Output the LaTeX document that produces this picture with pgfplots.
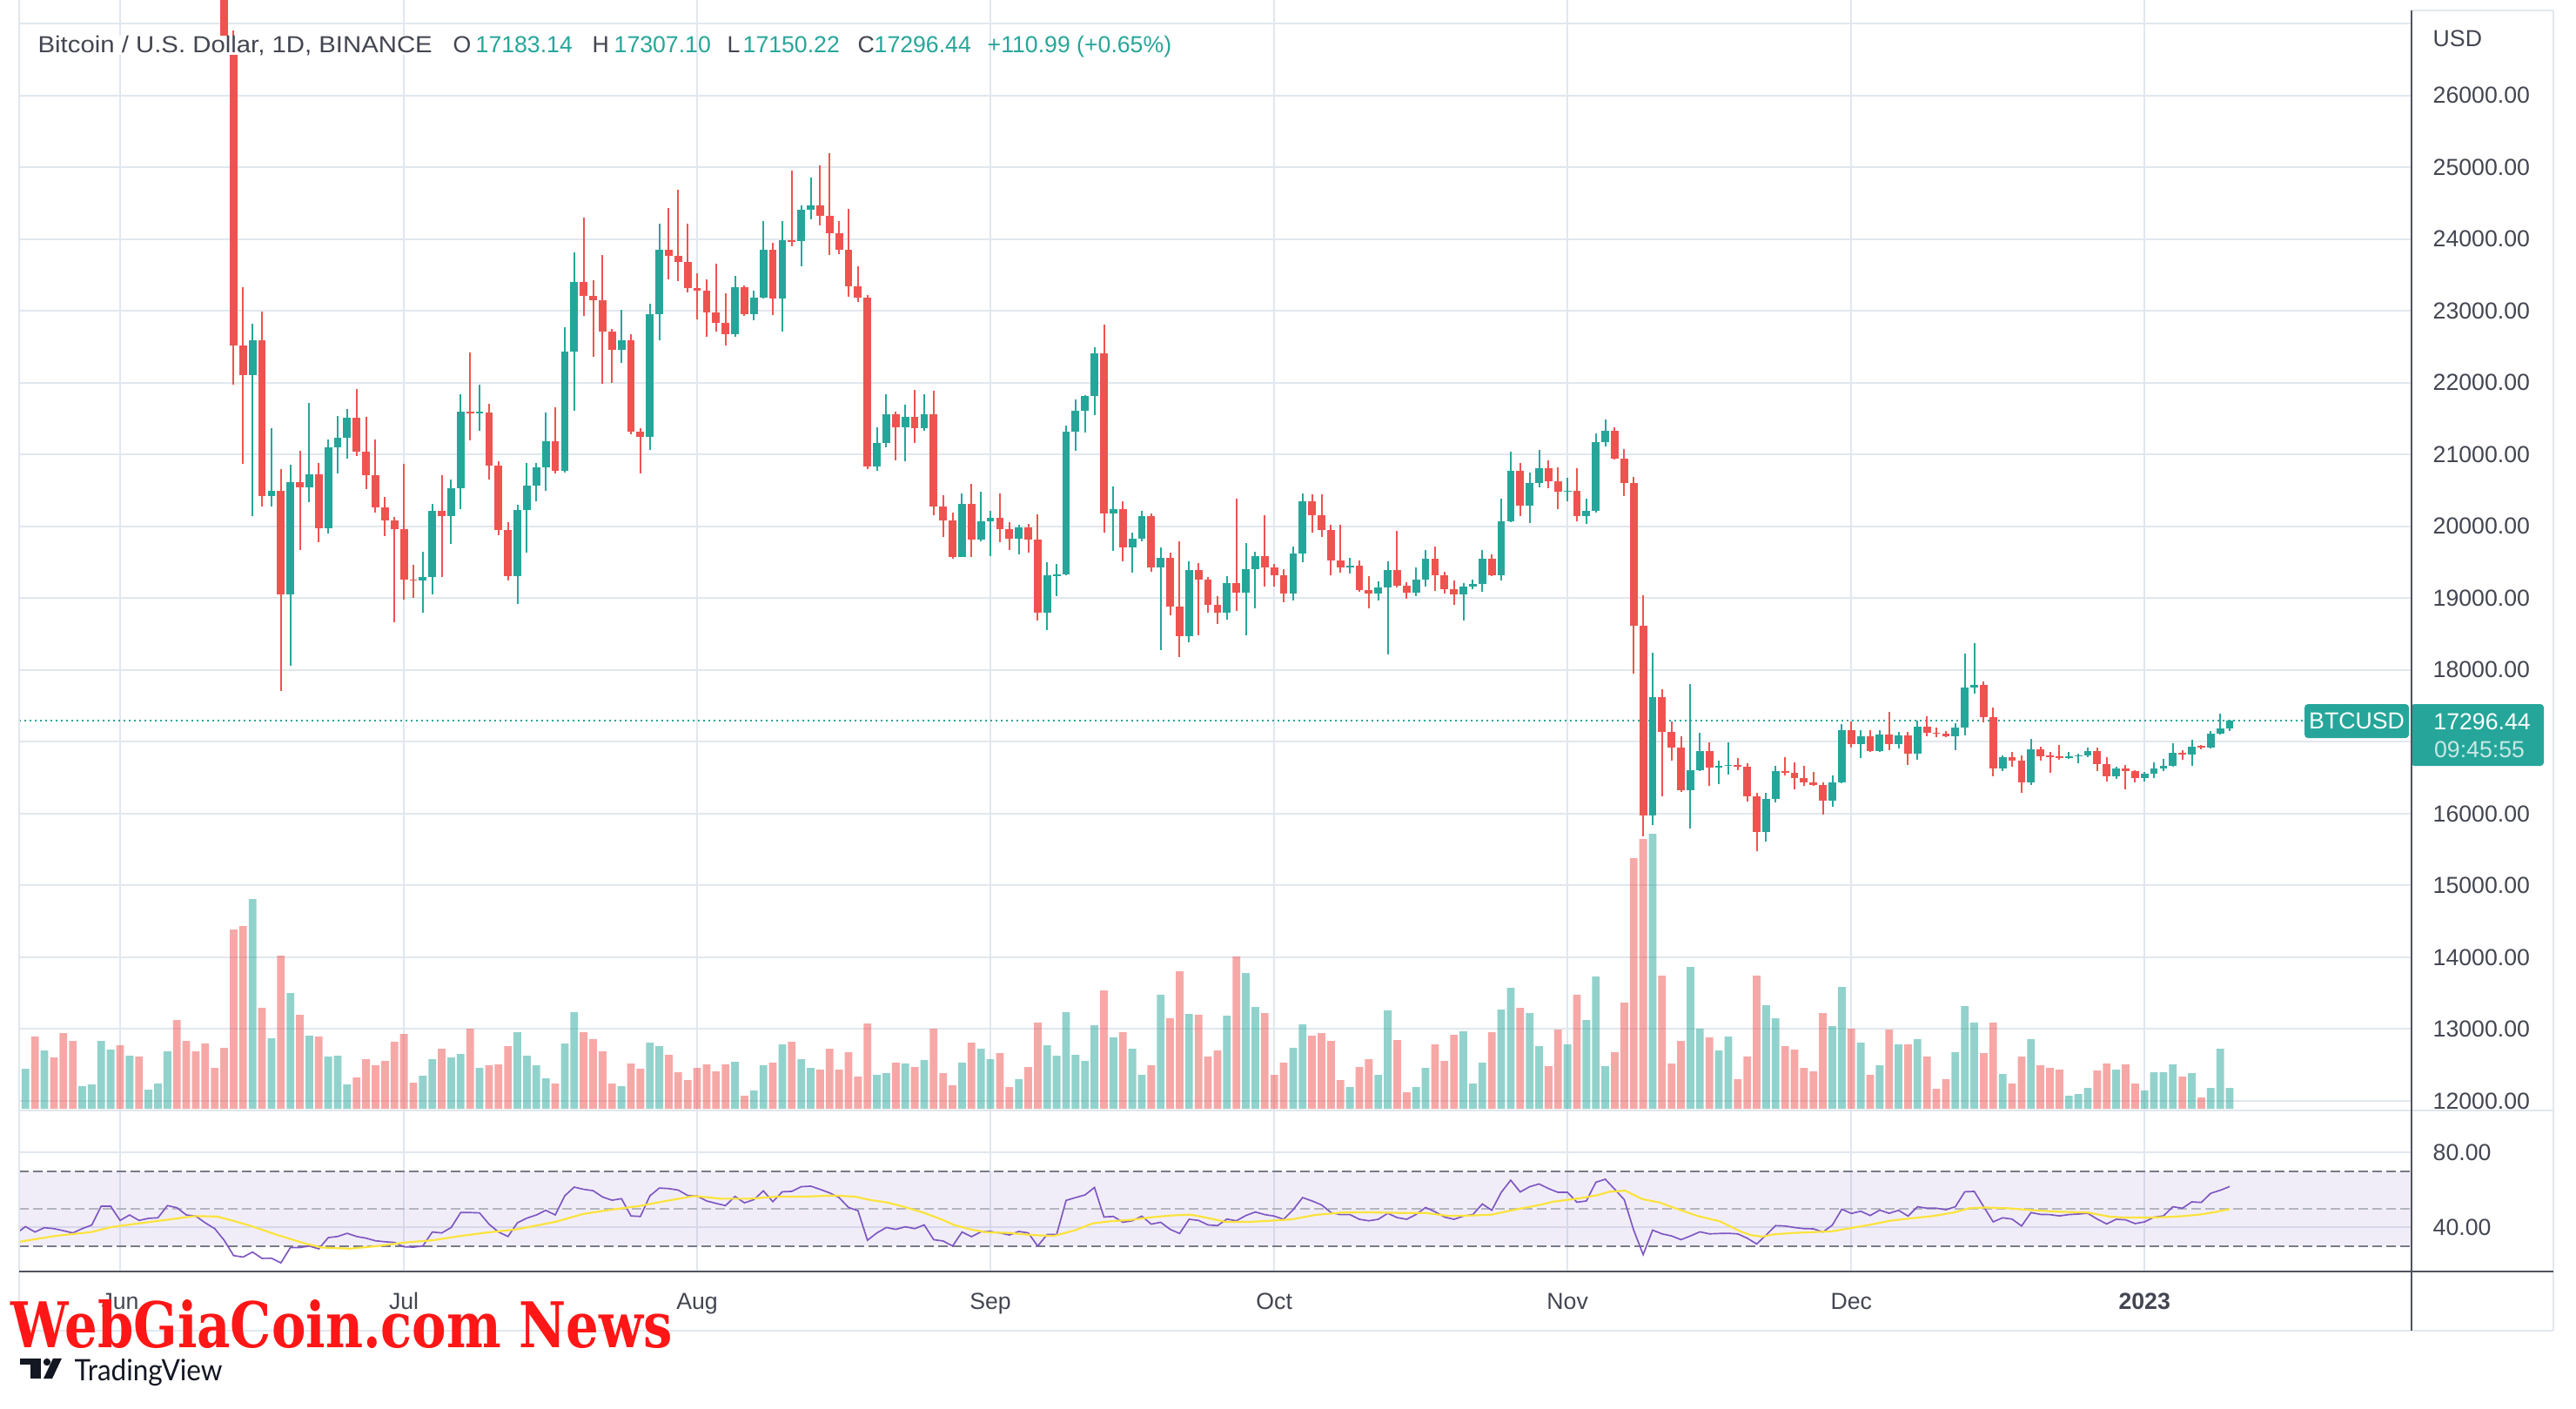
\documentclass[border=0pt]{standalone}
\usepackage{pgfplots}
\pgfplotsset{compat=1.18}
\usepackage{pgfplotstable}
\usepackage{graphicx}
\usepackage{fontspec}
\setmainfont{Liberation Sans}
\newfontfamily\wmfont{DejaVu Serif}
\newfontfamily\tvfont{Lato}

\definecolor{up}{HTML}{26A69A}
\definecolor{dn}{HTML}{EF5350}
\definecolor{gridc}{HTML}{E1E7EE}
\definecolor{txt}{HTML}{434651}
\definecolor{dark}{HTML}{50535E}
\definecolor{rsic}{HTML}{7E57C2}
\definecolor{rsima}{HTML}{FBE33B}
\definecolor{bandc}{HTML}{787B86}
\definecolor{bandm}{HTML}{B2B5BE}
\definecolor{wm}{HTML}{FF1616}
\definecolor{tvc}{HTML}{131722}

\newcommand{\lbl}{\fontsize{8}{9.5}\selectfont}

\pgfplotsset{
  base/.style={scale only axis, width=824.7pt, xmin=-10.672, xmax=242.226,
    axis line style={draw=none}, major tick length=0pt, tick style={draw=none},
    major grid style={draw=gridc, line width=0.6pt},
    tick label style={font=\lbl, text=txt},
    scaled y ticks=false, scaled x ticks=false,
    /pgf/number format/assume math mode=true},
  pricelbl/.style={yticklabel pos=right,
    yticklabel style={anchor=west, inner sep=0pt, xshift=7.2pt,
      /pgf/number format/fixed, /pgf/number format/fixed zerofill,
      /pgf/number format/precision=2, /pgf/number format/1000 sep={}}},
  wick/.style={only marks, mark=*, mark size=0pt, mark options={draw=none, fill=none},
    restrict y to domain=1000:100000,
    error bars/.cd, y dir=both, y explicit, error mark=none,
    error bar style={line width=0.6pt, draw=#1}},
  body/.style={only marks, mark=*, mark size=0pt, mark options={draw=none, fill=none},
    restrict y to domain=1000:100000,
    error bars/.cd, y dir=both, y explicit, error mark=none,
    error bar style={line width=2.64pt, draw=#1}},
}

% d = days since 1 Jun 2022; o h l c in USD; v = volume (bar height units); up = close >= open
\pgfplotstableread{
d o h l c v up
-11 29200 29600 28950 29430 24 1
-10 29430 30480 29240 30300 46 1
-9 30300 30660 28900 29100 83 0
-8 29100 29840 28600 29650 67 1
-7 29650 30230 29300 29540 59 0
-6 29540 29850 28020 29200 87 0
-5 29200 29380 28260 28630 78 0
-4 28630 29240 28560 29030 26 1
-3 29030 29550 28800 29470 28 1
-2 29470 32200 29300 31730 78 1
-1 31730 32400 31200 31800 68 1
0 31800 31980 29300 29800 73 0
1 29800 30650 29570 30450 61 1
2 30450 30700 29250 29700 60 0
3 29700 29950 29480 29860 22 1
4 29860 30150 29510 29900 29 1
5 29900 31760 29880 31370 66 1
6 31370 31550 29220 31120 102 0
7 31120 31330 29850 30200 78 0
8 30200 30700 29960 30110 66 0
9 30110 30390 28850 29090 75 0
10 29090 29440 28100 28420 47 0
11 28420 28544 26560 26574 70 0
12 26574 26898 21977 22518 206 0
13 22518 23329 20868 22107 210 0
14 22107 22815 20138 22588 241 1
15 22588 22988 20273 20425 116 0
16 20425 21366 20273 20490 81 1
17 20490 20798 17705 19057 176 0
18 19057 20857 18056 20614 133 1
19 20614 21047 19668 20544 108 0
20 20544 21717 20338 20722 84 1
21 20722 20885 19776 19976 83 0
22 19976 21204 19895 21095 60 1
23 21095 21533 20733 21231 61 1
24 21231 21631 20939 21512 28 1
25 21512 21907 20976 21041 36 0
26 21041 21528 20517 20706 57 0
27 20706 21204 20192 20263 50 0
28 20263 20409 19868 20079 55 0
29 20079 20127 18662 19965 77 0
30 19965 20868 18976 19262 86 0
31 19262 19462 19003 19246 30 0
32 19246 19651 18797 19300 38 1
33 19300 20317 19046 20219 57 1
34 20219 20706 19289 20138 69 0
35 20138 20652 19749 20533 59 1
36 20533 21836 20236 21598 63 1
37 21598 22420 21193 21577 92 0
38 21577 21971 21328 21588 47 1
39 21588 21700 20652 20841 50 0
40 20841 20900 19879 19949 51 0
41 19949 20057 19246 19311 72 0
42 19311 20300 18921 20230 88 1
43 20230 20885 19635 20565 61 1
44 20565 20885 20354 20825 50 1
45 20825 21582 20490 21182 35 1
46 21182 21652 20733 20771 29 0
47 20771 22772 20749 22431 75 1
48 22431 23810 21614 23399 111 1
49 23399 24297 22934 23210 88 0
50 23210 23421 22355 23150 80 0
51 23150 23772 21988 22707 66 0
52 22707 22750 21993 22458 29 0
53 22458 23015 22280 22588 26 1
54 22588 22680 21285 21317 52 0
55 21317 21366 20733 21247 46 0
56 21247 23102 21068 22950 76 1
57 22950 24210 22593 23848 72 1
58 23848 24427 23437 23762 62 0
59 23762 24681 23415 23680 42 0
60 23680 24210 23259 23318 33 0
61 23318 23518 22885 23286 47 0
62 23286 23432 22642 22983 51 0
63 22983 23653 22707 22837 43 0
64 22837 23248 22518 22680 51 0
65 22680 23486 22642 23329 54 1
66 23329 23356 22934 22950 15 0
67 22950 23280 22869 23183 21 1
68 23183 24248 23167 23848 50 1
69 23848 23945 22940 23167 53 0
70 23167 24248 22707 23983 74 1
71 23983 24951 23897 23967 77 0
72 23967 24465 23616 24405 57 1
73 24405 24854 24275 24465 47 1
74 24465 25022 24194 24324 45 0
75 24324 25195 23772 24081 69 0
76 24081 24248 23789 23853 45 0
77 23853 24416 23194 23340 65 0
78 23340 23616 23123 23188 37 0
79 23188 23215 20798 20836 98 0
80 20836 21382 20776 21160 39 1
81 21160 21836 21101 21555 41 1
82 21555 21600 20922 21382 53 0
83 21382 21690 20911 21523 52 1
84 21523 21896 21166 21371 48 0
85 21371 21836 21328 21555 56 1
86 21555 21885 20154 20273 92 0
87 20273 20436 19857 20079 41 0
88 20079 20192 19554 19576 27 0
89 19576 20463 19570 20311 53 1
90 20311 20587 19570 19814 76 0
91 19814 20479 19790 20068 69 1
92 20068 20219 19586 20122 57 1
93 20122 20463 19776 19965 64 0
94 19965 20057 19668 19830 25 0
95 19830 20019 19614 19981 34 1
96 19981 20030 19635 19814 48 0
97 19814 20165 18694 18802 99 0
98 18802 19500 18559 19316 73 1
99 19316 19473 19029 19327 61 1
100 19327 21400 19316 21317 111 1
101 21317 21771 21052 21604 62 1
102 21604 21825 21301 21815 55 1
103 21815 22491 21544 22404 96 1
104 22404 22804 19906 20181 136 0
105 20181 20555 19652 20235 82 1
106 20235 20354 19516 19706 88 0
107 19706 19906 19354 19830 69 1
108 19830 20219 19787 20138 39 1
109 20138 20180 19365 19424 50 0
110 19424 19706 18272 19560 131 1
111 19560 19635 18759 18884 104 0
112 18884 19787 18180 18472 158 0
113 18472 19516 18381 19392 109 1
114 19392 19489 18478 19262 108 0
115 19262 19300 18802 18905 60 0
116 18905 19030 18640 18802 67 0
117 18802 19306 18700 19214 107 1
118 19214 20382 18819 19073 175 0
119 19073 19761 18478 19404 156 1
120 19404 19648 18857 19588 117 1
121 19588 20157 19160 19425 110 0
122 19425 19480 19160 19323 39 0
123 19323 19398 18938 19063 53 0
124 19063 19713 18971 19626 70 1
125 19626 20454 19496 20346 97 1
126 20346 20443 19913 20157 84 0
127 20157 20443 19848 19951 87 0
128 19951 20027 19323 19528 78 0
129 19528 20027 19360 19425 33 0
130 19425 19566 19344 19447 25 1
131 19447 19523 19090 19117 48 0
132 19117 19306 18862 19063 57 0
133 19063 19236 18965 19144 39 1
134 19144 19512 18212 19387 113 1
135 19387 19940 19144 19171 79 0
136 19171 19225 18992 19073 19 0
137 19073 19431 19030 19252 25 1
138 19252 19675 19155 19550 47 1
139 19550 19713 19101 19323 74 0
140 19323 19371 19063 19128 55 0
141 19128 19241 18911 19046 85 0
142 19046 19209 18683 19160 89 1
143 19160 19252 19128 19198 29 1
144 19198 19669 19090 19550 53 1
145 19550 19604 19306 19323 88 0
146 19323 20389 19241 20065 114 1
147 20065 21040 20054 20769 139 1
148 20769 20877 20146 20292 116 0
149 20292 20752 20048 20606 110 1
150 20606 21067 20541 20807 72 1
151 20807 20920 20525 20633 49 0
152 20633 20823 20238 20482 91 0
153 20482 20677 20352 20498 74 1
154 20498 20812 20075 20140 131 0
155 20140 20379 20032 20211 102 1
156 20211 21299 20189 21175 152 1
157 21175 21484 21110 21326 49 1
158 21326 21381 20931 20942 65 0
159 20942 21077 20417 20606 122 0
160 20606 20687 17952 18613 288 0
161 18613 19036 15678 15970 310 0
162 15970 18234 15840 17627 316 1
163 17627 17725 16246 17140 153 0
164 17140 17286 16734 16923 52 0
165 16923 17075 16300 16328 78 0
166 16328 17801 15797 16609 163 1
167 16609 17129 16587 16869 92 1
168 16869 16988 16382 16642 82 0
169 16642 16734 16409 16663 67 1
170 16663 16988 16544 16679 83 1
171 16679 16772 16609 16652 34 0
172 16652 16706 16165 16246 60 0
173 16246 16284 15472 15743 153 0
174 15743 16284 15607 16208 119 1
175 16208 16663 16154 16598 104 1
176 16598 16788 16528 16571 72 0
177 16571 16717 16338 16501 68 0
178 16501 16663 16392 16436 47 0
179 16436 16582 16382 16403 43 0
180 16403 16436 15992 16186 110 0
181 16186 16528 16095 16436 95 1
182 16436 17248 16425 17167 140 1
183 17167 17286 16923 16967 92 0
184 16967 17167 16772 17075 76 1
185 17075 17167 16858 16869 39 0
186 16869 17167 16860 17102 50 1
187 17102 17422 16880 16967 91 0
188 16967 17140 16907 17086 74 1
189 17086 17140 16679 16831 74 0
190 16831 17292 16750 17216 80 1
191 17216 17357 17075 17129 60 0
192 17129 17194 17059 17113 23 0
193 17113 17151 17059 17075 34 0
194 17075 17259 16880 17194 65 1
195 17194 18223 17086 17752 118 1
196 17752 18375 17665 17790 99 1
197 17790 17844 17275 17340 64 0
198 17340 17481 16517 16625 99 0
199 16625 16815 16598 16788 40 1
200 16788 16853 16653 16734 29 0
201 16734 16815 16284 16436 60 0
202 16436 17042 16393 16896 80 1
203 16896 16934 16734 16804 50 0
204 16804 16858 16571 16799 47 0
205 16799 16950 16750 16772 45 0
206 16772 16858 16761 16799 15 1
207 16799 16830 16696 16815 17 1
208 16815 16923 16788 16869 24 1
209 16869 16923 16598 16690 44 0
210 16690 16788 16447 16517 52 0
211 16517 16652 16479 16625 45 1
212 16625 16679 16338 16598 51 0
213 16598 16609 16436 16490 29 0
214 16490 16582 16447 16555 21 1
215 16555 16717 16501 16625 42 1
216 16625 16761 16598 16663 42 1
217 16663 16977 16652 16842 51 1
218 16842 16880 16745 16826 37 0
219 16826 17032 16663 16934 41 1
220 16934 16961 16896 16923 13 0
221 16923 17151 16907 17113 24 1
222 17113 17394 17097 17183 69 1
223 17183.14 17307.10 17150.22 17296.44 24 1
}\btc

\begin{document}
\begin{tikzpicture}
\useasboundingbox (0,0) rectangle (888pt,-485.4pt);
\fill[white] (0,0) rectangle (888pt,-485.4pt);

% ---- price pane grid
\begin{axis}[base, at={(6.6pt,-382.8pt)}, anchor=south west, height=382.8pt,
  ymin=11866.2, ymax=27327.2,
  xtick={0,30,61,92,122,153,183,214}, ytick={12000,13000,...,27000},
  xticklabels={}, yticklabels={}, xmajorgrids, ymajorgrids]
\addplot[draw=none] coordinates {(0,20000)};
\end{axis}

% ---- volume overlay
\begin{axis}[base, at={(6.6pt,-382.2pt)}, anchor=south west, height=382.2pt,
  ymin=0, ymax=1274, xtick=\empty, ytick=\empty]
\addplot[ybar, bar width=0.81, bar shift=0pt, draw=none, fill=up, fill opacity=0.5,
  restrict y to domain=0:5000]
  table[x=d, y expr={\thisrow{up}>0.5 ? \thisrow{v} : -10}]{\btc};
\addplot[ybar, bar width=0.81, bar shift=0pt, draw=none, fill=dn, fill opacity=0.5,
  restrict y to domain=0:5000]
  table[x=d, y expr={\thisrow{up}<0.5 ? \thisrow{v} : -10}]{\btc};
\end{axis}

% ---- candles
\begin{axis}[base, pricelbl, at={(6.6pt,-382.8pt)}, anchor=south west, height=382.8pt,
  ymin=11866.2, ymax=27327.2, xtick=\empty,
  ytick={12000,13000,14000,15000,16000,18000,19000,20000,21000,22000,23000,24000,25000,26000}]
\draw[up, line width=0.45pt, dash pattern=on 0.6pt off 1.2pt]
  (axis cs:-10.672,17296.44) -- (axis cs:230.9,17296.44);
\addplot[wick=up] table[x=d,
  y expr={\thisrow{up}>0.5 ? (\thisrow{h}+\thisrow{l})/2 : -50},
  y error expr={(\thisrow{h}-\thisrow{l})/2}]{\btc};
\addplot[wick=dn] table[x=d,
  y expr={\thisrow{up}<0.5 ? (\thisrow{h}+\thisrow{l})/2 : -50},
  y error expr={(\thisrow{h}-\thisrow{l})/2}]{\btc};
\addplot[body=up] table[x=d,
  y expr={\thisrow{up}>0.5 ? (\thisrow{o}+\thisrow{c})/2 : -50},
  y error expr={max(abs(\thisrow{o}-\thisrow{c})/2,9)}]{\btc};
\addplot[body=dn] table[x=d,
  y expr={\thisrow{up}<0.5 ? (\thisrow{o}+\thisrow{c})/2 : -50},
  y error expr={max(abs(\thisrow{o}-\thisrow{c})/2,9)}]{\btc};
\end{axis}

% ---- RSI pane
\begin{axis}[base, pricelbl, at={(6.6pt,-438.3pt)}, anchor=south west, height=55.5pt,
  ymin=16.28, ymax=102.33,
  xtick={0,30,61,92,122,153,183,214},
  xticklabels={Jun,Jul,Aug,Sep,Oct,Nov,Dec,\textbf{2023}},
  xticklabel style={anchor=base, inner sep=0pt, yshift=-12.9pt},
  ytick={40,80}, xmajorgrids, ymajorgrids]
\fill[rsic, fill opacity=0.1] (axis cs:-10.672,30) rectangle (axis cs:242.226,70);
\draw[bandc, line width=0.6pt, dash pattern=on 3.3pt off 1.5pt] (axis cs:-10.672,70) -- (axis cs:242.226,70);
\draw[bandc, line width=0.6pt, dash pattern=on 3.3pt off 1.5pt] (axis cs:-10.672,30) -- (axis cs:242.226,30);
\draw[bandm, line width=0.6pt, dash pattern=on 3.3pt off 1.5pt] (axis cs:-10.672,50) -- (axis cs:242.226,50);
\addplot[rsic, line width=0.5pt] coordinates {
(-11,36.5)(-10,40.3)(-9,37.4)(-8,39.7)(-7,39.2)(-6,38.1)(-5,36.9)(-4,39.2)(-3,41.1)(-2,51.2)(-1,51.2)
(0,43.6)(1,46.5)(2,43.6)(3,44.7)(4,45.0)(5,51.5)(6,50.4)(7,46.5)(8,45.9)(9,42.3)(10,39.2)(11,33.0)
(12,24.8)(13,24.0)(14,26.7)(15,23.3)(16,23.4)(17,20.9)(18,29.1)(19,29.1)(20,29.9)(21,28.4)(22,34.4)
(23,35.0)(24,36.7)(25,35.0)(26,34.1)(27,32.7)(28,32.2)(29,31.8)(30,29.5)(31,29.3)(32,29.9)(33,37.4)
(34,36.9)(35,39.8)(36,47.8)(37,47.8)(38,47.6)(39,41.6)(40,37.4)(41,35.0)(42,42.3)(43,44.8)(44,46.5)
(45,49.0)(46,46.5)(47,56.7)(48,61.4)(49,60.2)(50,59.5)(51,56.1)(52,54.4)(53,55.2)(54,46.0)(55,45.7)
(56,56.7)(57,60.9)(58,60.6)(59,59.8)(60,56.9)(61,56.6)(62,54.0)(63,52.7)(64,51.5)(65,56.4)(66,53.0)
(67,54.7)(68,59.4)(69,53.6)(70,58.9)(71,59.1)(72,61.6)(73,61.9)(74,60.2)(75,58.3)(76,55.8)(77,50.5)
(78,48.8)(79,33.0)(80,36.9)(81,39.8)(82,38.8)(83,40.2)(84,39.2)(85,41.2)(86,33.3)(87,32.6)(88,29.9)
(89,37.4)(90,34.9)(91,37.5)(92,37.7)(93,36.9)(94,35.8)(95,37.7)(96,36.9)(97,29.9)(98,36.1)(99,36.1)
(100,54.3)(101,55.8)(102,57.2)(103,61.2)(104,45.4)(105,45.7)(106,42.6)(107,43.4)(108,45.9)(109,41.6)
(110,42.6)(111,38.8)(112,36.6)(113,44.2)(114,43.6)(115,41.2)(116,40.8)(117,44.3)(118,43.4)(119,46.2)
(120,48.1)(121,46.7)(122,45.9)(123,44.2)(124,49.3)(125,55.8)(126,54.0)(127,51.9)(128,47.8)(129,46.7)
(130,46.7)(131,44.2)(132,43.4)(133,44.2)(134,47.4)(135,45.1)(136,44.2)(137,46.8)(138,50.5)(139,48.2)
(140,45.4)(141,44.2)(142,45.9)(143,46.7)(144,52.4)(145,49.0)(146,58.6)(147,65.1)(148,58.8)(149,61.6)
(150,63.1)(151,60.6)(152,58.6)(153,58.6)(154,53.3)(155,54.0)(156,64.0)(157,65.6)(158,60.2)(159,54.7)
(160,38.4)(161,25.3)(162,38.4)(163,36.4)(164,35.3)(165,33.3)(166,35.3)(167,37.5)(168,36.4)(169,36.6)
(170,36.7)(171,36.4)(172,34.1)(173,31.0)(174,35.8)(175,40.8)(176,40.6)(177,39.8)(178,39.2)(179,39.1)
(180,37.4)(181,41.1)(182,49.6)(183,47.3)(184,48.5)(185,46.2)(186,49.1)(187,47.4)(188,49.0)(189,45.9)
(190,50.9)(191,50.1)(192,50.1)(193,49.3)(194,50.9)(195,58.9)(196,59.1)(197,50.9)(198,42.8)(199,45.0)
(200,44.3)(201,40.6)(202,47.8)(203,46.8)(204,46.7)(205,46.0)(206,46.7)(207,47.0)(208,47.4)(209,44.3)
(210,41.7)(211,44.2)(212,43.9)(213,41.9)(214,42.8)(215,45.3)(216,46.0)(217,50.9)(218,50.1)(219,53.5)
(220,53.2)(221,58.1)(222,59.7)(223,61.7)};
\addplot[rsima, line width=0.65pt] coordinates {
(-11,31.8)(-10.65,32.2)(-6.83,35.3)(-3.02,37.4)(-0.96,40.0)(1.97,42.0)(4.91,43.9)(7.84,45.9)(10.19,45.7)
(11.95,43.4)(13.71,40.8)(16.64,35.8)(19.58,31.2)(21.34,29.1)(24.27,28.5)(27.21,29.9)(30.14,31.8)
(33.07,33.0)(36.01,35.3)(38.94,37.2)(41.88,38.8)(45.99,42.8)(48.92,47.0)(51.86,49.3)(54.79,51.2)
(57.72,54.0)(60.66,56.6)(63.59,55.2)(66.53,55.2)(69.46,56.3)(72.39,56.3)(75.33,56.9)(77.67,56.3)
(79.32,54.5)(81.08,53.2)(82.84,50.9)(84.9,47.8)(86.95,43.9)(88.13,41.2)(89.9,38.8)(91.64,37.2)
(94.0,36.9)(96.34,35.8)(98.7,35.3)(101.0,38.4)(102.8,42.0)(104.6,43.1)(106.9,43.9)(108.7,45.1)
(111.0,46.2)(113.1,46.7)(114.5,45.4)(116.9,42.8)(119.2,42.8)(121.6,43.4)(123.9,44.2)(126.3,46.5)
(129.2,47.8)(132.1,47.9)(135.1,47.6)(138.0,47.6)(140.4,46.0)(142.7,46.2)(145.0,46.7)(147.4,49.3)
(149.8,51.6)(151.5,53.6)(154.4,55.5)(156.2,57.1)(157.4,58.9)(159.1,59.5)(160.9,55.0)(162.7,53.2)
(164.4,50.1)(166.8,45.9)(169.1,43.1)(171.3,37.7)(172.4,35.7)(173.6,34.9)(174.7,36.1)(176.9,36.9)
(179.7,37.5)(180.9,37.7)(182.6,39.2)(184.8,41.1)(187.1,43.4)(189.3,44.7)(191.6,45.9)(193.8,47.8)
(195.5,50.1)(197.2,50.5)(199.5,50.1)(202.3,49.0)(205.1,48.2)(208.0,47.8)(210.2,45.7)(211.9,45.1)
(214.2,45.1)(216.4,45.4)(218.1,45.9)(219.8,46.7)(221.5,48.1)(223.0,49.6)};
\end{axis}

% ---- frame, labels, tags (coordinates in reference pixels)
\begin{scope}[x=0.3pt, y=-0.3pt]
\draw[gridc, line width=0.6pt] (22,1276) -- (2934,1276);
\draw[gridc, line width=0.6pt] (22,0) -- (22,1529);
\draw[gridc, line width=0.6pt] (22,1529) -- (2934,1529);
\draw[gridc, line width=0.6pt] (2934,12) -- (2934,1529);
\draw[gridc, line width=0.6pt] (2771,12) -- (2934,12);

\node[anchor=base west, inner sep=0pt, text=txt, font=\lbl, fill=white] at (43,60)
  {\scalebox{1.1}[1]{Bitcoin / U.S. Dollar, 1D, BINANCE}};
\node[anchor=base west, inner sep=0pt, text=txt, font=\lbl] at (520,60) {O};
\node[anchor=base west, inner sep=0pt, text=up, font=\lbl] at (546,60) {17183.14};
\node[anchor=base west, inner sep=0pt, text=txt, font=\lbl] at (680,60) {H};
\node[anchor=base west, inner sep=0pt, text=up, font=\lbl] at (705,60) {17307.10};
\node[anchor=base west, inner sep=0pt, text=txt, font=\lbl] at (835,60) {L};
\node[anchor=base west, inner sep=0pt, text=up, font=\lbl] at (853,60) {17150.22};
\node[anchor=base west, inner sep=0pt, text=txt, font=\lbl] at (985,60) {C};
\node[anchor=base west, inner sep=0pt, text=up, font=\lbl] at (1004,60) {17296.44};
\node[anchor=base west, inner sep=0pt, text=up, font=\lbl] at (1134,60) {+110.99 (+0.65\%)};

\node[anchor=west, inner sep=0pt, text=txt, font=\lbl] at (2795,44) {USD};

\fill[up, rounded corners=1.2pt] (2648,809) rectangle (2768,848);
\node[text=white, font=\lbl, inner sep=0pt] at (2708,828.5) {BTCUSD};
\fill[up, rounded corners=1.2pt] (2770,809) rectangle (2923,880);
\node[text=white, font=\lbl, inner sep=0pt] at (2852,829) {17296.44};
\node[text=white, text opacity=0.75, font=\lbl, inner sep=0pt] at (2849,861) {09:45:55};

\draw[dark, line width=0.5pt] (22,1461) -- (2934,1461);
\draw[dark, line width=0.5pt] (2771,12) -- (2771,1529);

\node[anchor=base west, inner sep=0pt, text=wm] at (12,1548)
  {\resizebox{228pt}{16.5pt}{\wmfont\bfseries WebGiaCoin.com News}};

\fill[tvc] (23,1560.7) rectangle (47,1567.5);
\fill[tvc] (34.5,1560.7) rectangle (47,1584);
\fill[tvc] (54,1565) circle (4.2);
\fill[tvc] (61,1560.7) -- (71,1560.7) -- (60,1584) -- (50,1584) -- cycle;
\node[anchor=base west, inner sep=0pt, text=tvc] at (85,1586)
  {\resizebox{51pt}{7.5pt}{\tvfont TradingView}};
\end{scope}
\end{tikzpicture}
\end{document}
